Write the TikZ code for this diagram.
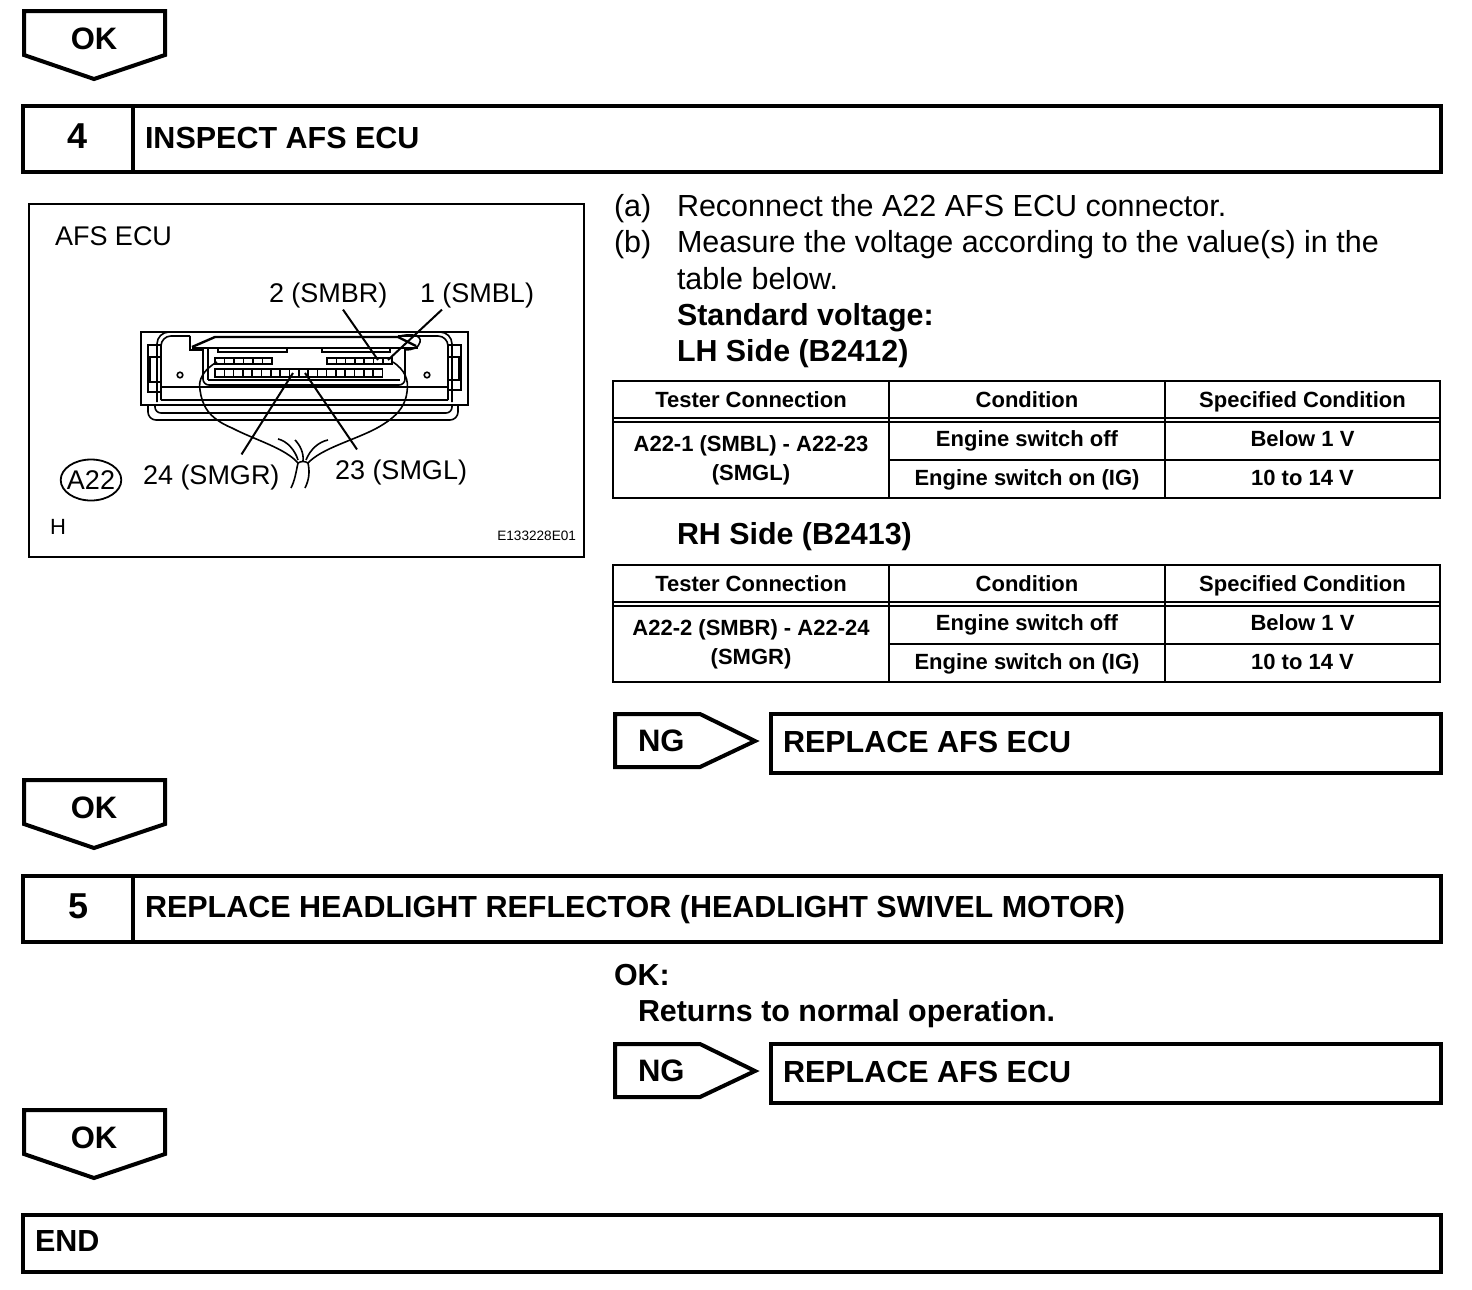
\documentclass[tikz,border=0pt]{standalone}
\usepackage{fontspec}
\setmainfont{Liberation Sans}
\usetikzlibrary{positioning, calc, shapes.geometric}

\begin{document}
\begin{tikzpicture}[
  x=0.5pt, y=-0.5pt,
  every node/.style={inner sep=0pt, outer sep=0pt},
  frameline/.style={draw=black, line width=2pt},
  okflag/.style={draw=black, line width=2pt, line join=miter, fill=white},
  okmark/.style={font=\bfseries\fontsize{15.5}{18}\selectfont},
  steptext/.style={anchor=base west, font=\bfseries\fontsize{15.25}{19}\selectfont},
  stepnum/.style={anchor=base, font=\bfseries\fontsize{18}{20}\selectfont},
  bodytext/.style={anchor=base west, font=\fontsize{15.25}{18}\selectfont},
  headtext/.style={anchor=base west, font=\bfseries\fontsize{15.2}{18}\selectfont},
  cellbox/.style={anchor=north west, align=center, font=\bfseries\fontsize{11}{14.5}\selectfont},
  headcell/.style={cellbox, text height=9.5pt, text depth=1.5pt, minimum height=18.5pt},
  offcell/.style={cellbox, text height=8pt, text depth=3pt, minimum height=19pt},
  oncell/.style={cellbox, text height=8.5pt, text depth=2.5pt, minimum height=19pt},
  gridline/.style={draw=black, line width=1.3pt},
  thinline/.style={draw=black, line width=0.6pt},
  figtext/.style={anchor=base west, font=\fontsize{13.5}{16}\selectfont},
  eculine/.style={draw=black, line width=0.8pt},
  leader/.style={draw=black, line width=1pt},
]
\useasboundingbox (0,0) rectangle (1472,1290);

% flags between the steps
\foreach \yo/\nm in {0/oka, 769/okb, 1099/okc} {
  \draw[okflag] (24,11+\yo) -- (165,11+\yo) -- (165,55+\yo) -- (94,79+\yo) -- (24,55+\yo) -- cycle;
  \node[okmark] (\nm) at (94,39+\yo) {OK};
}

% step boxes
\draw[frameline] (23,106) rectangle (1441,172);
\draw[frameline] (133,106) -- (133,172);
\node[stepnum] (numfour) at (78,148) {4};
\node[steptext] (stepfour) at (145,148) {INSPECT AFS ECU};

\draw[frameline] (23,876) rectangle (1441,942);
\draw[frameline] (133,876) -- (133,942);
\node[stepnum] (numfive) at (79,918) {5};
\node[steptext] (stepfive) at (145,917) {REPLACE HEADLIGHT REFLECTOR (HEADLIGHT SWIVEL MOTOR)};

\draw[frameline] (23,1215) rectangle (1441,1272);
\node[steptext] (endtext) at (35,1251) {END};

% figure frame
\draw[black, line width=1pt] (29,204) rectangle (584,557);
\node[figtext] (ecuname) at (55,245) {AFS ECU};
\node[figtext] (lblsmbr) at (269,302) {2 (SMBR)};
\node[figtext] (lblsmbl) at (420,302) {1 (SMBL)};
\node[figtext] (lblsmgr) at (143,484) {24 (SMGR)};
\node[figtext] (lblsmgl) at (335,479) {23 (SMGL)};
\node[ellipse, draw=black, line width=0.9pt, inner sep=-1.3pt, minimum height=20.5pt, font=\fontsize{13.5}{16}\selectfont] (conn) at (91,480) {A22};
\node[anchor=base west, font=\fontsize{11}{13}\selectfont] (hmark) at (50,534) {H};
\node[anchor=base east, font=\fontsize{6.8}{8}\selectfont] (figcode) at (576,540) {E133228E01};

% connector body
\draw[draw=black, line width=1pt] (141,332) rectangle (468,405);
\draw[eculine, rounded corners=4pt] (148,405) -- (148,420) -- (458,420) -- (458,405);
\draw[eculine, rounded corners=3pt] (155,405) -- (155,413) -- (452,413) -- (452,405);
\draw[eculine, rounded corners=6pt] (157,402) -- (157,332) -- (452,332) -- (452,402);
\draw[eculine, rounded corners=5pt] (161,400) -- (161,336) -- (190,336);
\draw[eculine, rounded corners=5pt] (448,400) -- (448,336) -- (398,336);
\draw[eculine] (161,345) -- (148,345) -- (148,392) -- (161,392);
\draw[eculine] (161,357) -- (150,357) -- (150,382) -- (161,382);
\draw[eculine] (448,345) -- (461,345) -- (461,390) -- (448,390);
\draw[eculine] (448,357) -- (459,357) -- (459,380) -- (448,380);
\draw[eculine] (180,375) circle (2.8);
\draw[eculine] (427,375) circle (2.8);
\draw[eculine] (190,336) -- (190,350) -- (203,350);
\draw[eculine, rounded corners=3pt] (203,348) -- (203,385) -- (405,385) -- (405,348);
\draw[line width=1.2pt] (192,347) -- (215,337) -- (398,337) -- (416,346);
\draw[eculine] (192,348) -- (418,348);
\draw[eculine] (397,337) .. controls (412,332) and (422,336) .. (420,342) .. controls (419,348) and (412,350) .. (405,350);
\draw[eculine] (208,380) -- (208,348) -- (218,348) -- (218,352) -- (287,352) -- (287,348) -- (322,348) -- (322,352) -- (390,352) -- (390,348) -- (405,348);
\draw[eculine] (208,380) -- (400,380);
\draw[line width=1.1pt] (161,387) -- (448,387);
\draw[eculine] (161,400) -- (448,400);

% pin rows
\foreach \x in {215,224.5,...,263} { \draw[eculine] (\x,358) rectangle (\x+9.5,364); }
\foreach \x in {327,336.3,...,383} { \draw[eculine] (\x,358) rectangle (\x+9.3,364); }
\foreach \x in {215,224.3,...,382} { \draw[eculine] (\x,369) rectangle (\x+9.3,377); }

% wiring loop
\draw[eculine] (217,362) .. controls (203,370) and (198,380) .. (200,390) .. controls (202,405) and (208,418) .. (232,428) .. controls (255,440) and (285,448) .. (298,463);
\draw[eculine] (393,362) .. controls (405,370) and (409,380) .. (407,392) .. controls (405,408) and (395,418) .. (377,428) .. controls (355,440) and (322,448) .. (308,463);
\draw[eculine] (298,463) .. controls (296,472) and (295,480) .. (291,488);
\draw[eculine] (308,463) .. controls (310,472) and (309,480) .. (305,488);
\draw[eculine] (298,463) .. controls (301,461) and (305,461) .. (308,463);
\draw[eculine] (278,439) .. controls (287,441) and (295,450) .. (298,460);
\draw[eculine] (295,440) .. controls (300,445) and (304,453) .. (303,461);
\draw[eculine] (328,440) .. controls (318,442) and (310,450) .. (306,460);

% leaders to the pins
\coordinate (pinsmbr) at (378,360);
\coordinate (pinsmbl) at (388,360);
\coordinate (pinsmgr) at (293,373);
\coordinate (pinsmgl) at (305,373);
\draw[leader] ([xshift=37pt, yshift=-1pt]lblsmbr.south west) -- (pinsmbr);
\draw[leader] ([xshift=11pt, yshift=-1pt]lblsmbl.south west) -- (pinsmbl);
\draw[leader] ([xshift=-19pt, yshift=5pt]lblsmgr.north east) -- (pinsmgr);
\draw[leader] ([xshift=11pt, yshift=5pt]lblsmgl.north west) -- (pinsmgl);

% instructions
\node[bodytext] (parta) at (614,216) {(a)};
\node[bodytext] (reconnect) at (677,216) {Reconnect the A22 AFS ECU connector.};
\node[bodytext] (partb) at (614,252) {(b)};
\node[bodytext] (measure) at (677,252) {Measure the voltage according to the value(s) in the};
\node[bodytext] (tablebelow) at (677,289) {table below.};
\node[headtext] (standard) at (677,325) {Standard voltage:};
\node[headtext] (lhside) at (677,361) {LH Side (B2412)};
\node[headtext] (rhside) at (677,544) {RH Side (B2413)};

% tables
\foreach \tb/\yo/\rowa/\rowb in {lh/0/A22-1 (SMBL) - A22-23/(SMGL), rh/184/A22-2 (SMBR) - A22-24/(SMGR)} {
  \node[headcell, minimum width=138pt] (\tb tester) at (613,381+\yo) {Tester Connection};
  \node[headcell, minimum width=138pt] (\tb cond) at (889,381+\yo) {Condition};
  \node[headcell, minimum width=137.5pt] (\tb spec) at (1165,381+\yo) {Specified Condition};
  \node[cellbox, minimum width=138pt, minimum height=38pt] (\tb pins) at (613,422+\yo) {\rowa\\\rowb};
  \node[offcell, minimum width=138pt] (\tb off) at (889,422+\yo) {Engine switch off};
  \node[offcell, minimum width=137.5pt] (\tb below) at (1165,422+\yo) {Below 1 V};
  \node[oncell, minimum width=138pt] (\tb on) at (889,460+\yo) {Engine switch on (IG)};
  \node[oncell, minimum width=137.5pt] (\tb range) at (1165,460+\yo) {10 to 14 V};
  \draw[gridline] (\tb tester.north west) rectangle (\tb range.south east);
  \draw[gridline] (\tb tester.north east) -- (\tb pins.south east);
  \draw[gridline] (\tb cond.north east) -- (\tb on.south east);
  \draw[gridline] (\tb off.south west) -- (\tb below.south east);
  \draw[thinline] (\tb tester.south west) -- (\tb spec.south east);
  \draw[thinline] (\tb pins.north west) -- (\tb below.north east);
}

% NG branches
\foreach \yo/\nm in {0/nga, 330/ngb} {
  \draw[okflag] (615,714+\yo) -- (700,714+\yo) -- (755,741+\yo) -- (700,767+\yo) -- (615,767+\yo) -- cycle;
  \node[okmark, anchor=base west] (\nm) at (638,751+\yo) {NG};
  \draw[frameline] (771,714+\yo) rectangle (1441,773+\yo);
  \node[steptext] (\nm box) at (783,752+\yo) {REPLACE AFS ECU};
}

\node[headtext] (oktext) at (614,985) {OK:};
\node[headtext] (returns) at (638,1021) {Returns to normal operation.};
\end{tikzpicture}
\end{document}
